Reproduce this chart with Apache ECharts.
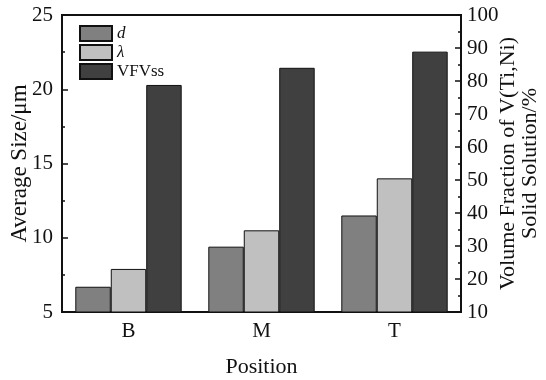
<!DOCTYPE html>
<html>
<head>
<meta charset="utf-8">
<script src="https://cdn.jsdelivr.net/npm/echarts@6/dist/echarts.min.js"></script>
<style>
  html, body { margin: 0; padding: 0; background: #fff; }
  #chart { width: 546px; height: 380px; }
</style>
</head>
<body>
<div id="chart"></div>
<script>
const positions = ['B', 'M', 'T']
const sizeD = [6.7, 9.4, 11.5]
const sizeLambda = [7.9, 10.5, 14.0]
const vfvss = [78.8, 84.0, 88.9]

const font = 'Liberation Serif, Times New Roman, serif'
const chart = echarts.init(document.getElementById('chart'))

const barStyle = (color) => ({ color, borderColor: '#111', borderWidth: 1 })

chart.setOption({
  animation: false,
  textStyle: { fontFamily: font },
  grid: {
    left: 62, right: 85, top: 15, bottom: 68,
    outerBoundsMode: 'none',
    containLabel: false,
    show: true, borderColor: '#111', borderWidth: 2, backgroundColor: 'transparent'
  },
  legend: {
    orient: 'vertical',
    left: 74,
    top: 20,
    itemWidth: 32,
    itemHeight: 15,
    itemGap: 2,
    icon: 'rect',
    selectedMode: false,
    textStyle: {
      fontFamily: font, fontSize: 17, color: '#111',
      rich: { i: { fontStyle: 'italic', fontFamily: font, fontSize: 17, color: '#111' } }
    },
    formatter: (name) => name === 'VFVss' ? name : '{i|' + name + '}',
    data: ['d', 'λ', 'VFVss']
  },
  xAxis: {
    type: 'category',
    data: positions,
    name: 'Position',
    nameLocation: 'middle',
    nameGap: 44,
    nameMoveOverlap: false,
    nameTextStyle: { fontSize: 22, color: '#111' },
    axisLine: { lineStyle: { color: '#111', width: 2 } },
    axisTick: { alignWithLabel: true, inside: true, length: 6, lineStyle: { color: '#111', width: 1.5 } },
    axisLabel: { fontSize: 21, color: '#111', margin: 9 }
  },
  yAxis: [
    {
      type: 'value',
      min: 5, max: 25, interval: 5,
      name: 'Average Size/μm',
      nameLocation: 'middle',
      nameGap: 31,
      nameMoveOverlap: false,
      nameTextStyle: { fontSize: 23, color: '#111' },
      axisLine: { show: true, lineStyle: { color: '#111', width: 2 } },
      axisTick: { show: true, inside: true, length: 6, lineStyle: { color: '#111', width: 1.5 } },
      minorTick: { show: true, splitNumber: 2, length: 3, lineStyle: { color: '#111', width: 1.5 } },
      axisLabel: { fontSize: 21, color: '#111', margin: 9 },
      splitLine: { show: false }
    },
    {
      type: 'value',
      position: 'right',
      min: 10, max: 100, interval: 10,
      name: 'Volume Fraction of V(Ti,Ni)\nSolid Solution/%',
      nameLocation: 'middle',
      nameRotate: 90,
      nameGap: 36,
      nameMoveOverlap: false,
      nameTextStyle: { fontSize: 22, color: '#111', lineHeight: 22 },
      axisLine: { show: true, lineStyle: { color: '#111', width: 2 } },
      axisTick: { show: true, inside: true, length: 6, lineStyle: { color: '#111', width: 1.5 } },
      minorTick: { show: true, splitNumber: 2, length: 3, lineStyle: { color: '#111', width: 1.5 } },
      axisLabel: { fontSize: 21, color: '#111', margin: 6 },
      splitLine: { show: false }
    }
  ],
  series: [
    { name: 'd', type: 'bar', yAxisIndex: 0, data: sizeD, barGap: '0%', barCategoryGap: '20%', itemStyle: barStyle('#808080') },
    { name: 'λ', type: 'bar', yAxisIndex: 0, data: sizeLambda, barGap: '0%', barCategoryGap: '20%', itemStyle: barStyle('#c0c0c0') },
    { name: 'VFVss', type: 'bar', yAxisIndex: 1, data: vfvss, barGap: '0%', barCategoryGap: '20%', itemStyle: barStyle('#404040') }
  ]
})
</script>
</body>
</html>
